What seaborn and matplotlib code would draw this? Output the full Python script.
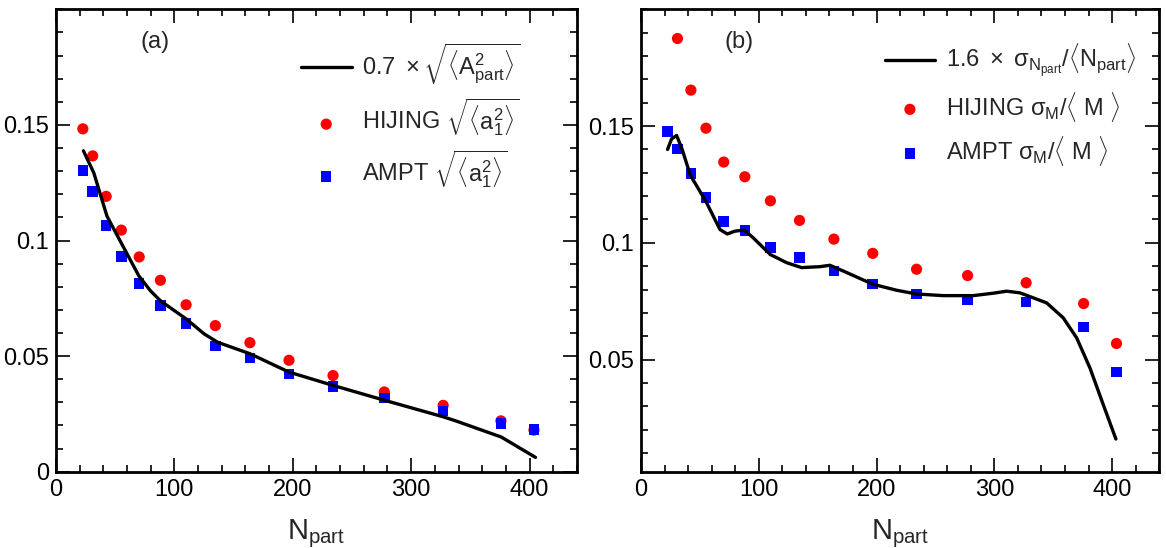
import matplotlib
matplotlib.use("Agg")
import matplotlib.pyplot as plt
from matplotlib.ticker import MultipleLocator, FixedLocator, FixedFormatter
import seaborn as sns

# centrality bins (N_part), shared by both panels
npart = [22.7, 31.0, 42.4, 55.2, 70.3, 88.2, 109.9, 134.6, 163.8, 196.8,
         234.0, 277.3, 327.0, 375.8, 403.7]

# (a) sqrt(<a1^2>)
hijing_a = [0.1483, 0.1366, 0.1191, 0.1045, 0.0929, 0.0828, 0.0722, 0.0632,
            0.0558, 0.0482, 0.0416, 0.0345, 0.0287, 0.0220, 0.0180]
ampt_a = [0.1303, 0.1213, 0.1064, 0.0930, 0.0815, 0.0718, 0.0642, 0.0544,
          0.0492, 0.0422, 0.0369, 0.0319, 0.0263, 0.0208, 0.0182]
curve_a_x = [23.2, 32.0, 43.1, 55.8, 70.0, 79.9, 88.3, 110.2, 125.2, 136.5,
             164.0, 196.8, 234.2, 277.5, 327.4, 337.6, 376.1, 405.0]
curve_a_y = [0.1388, 0.1292, 0.1105, 0.0983, 0.0847, 0.0782, 0.0739, 0.0660,
             0.0596, 0.0560, 0.0510, 0.0431, 0.0373, 0.0309, 0.0237, 0.0220,
             0.0150, 0.0062]

# (b) sigma_M / <M>  (first HIJING point is off scale)
npart_hijing_b = npart[1:]
hijing_b = [0.1875, 0.1654, 0.1491, 0.1346, 0.1283, 0.1180, 0.1096, 0.1016,
            0.0955, 0.0887, 0.0860, 0.0829, 0.0740, 0.0569]
ampt_b = [0.1477, 0.1402, 0.1297, 0.1195, 0.1091, 0.1052, 0.0980, 0.0938,
          0.0880, 0.0823, 0.0781, 0.0756, 0.0747, 0.0640, 0.0447]
curve_b_x = [22.6, 26.0, 30.3, 35.0, 41.9, 55.2, 67.1, 73.3, 79.8, 87.7, 95.4,
             109.8, 123.7, 136.4, 151.9, 160.4, 174.6, 196.7, 217.1, 234.0,
             256.6, 282.1, 300.0, 310.4, 321.7, 344.4, 358.5, 369.9, 381.2,
             392.5, 403.2]
curve_b_y = [0.1400, 0.1445, 0.1460, 0.1400, 0.1290, 0.1177, 0.1057, 0.1038,
             0.1050, 0.1055, 0.1021, 0.0950, 0.0915, 0.0894, 0.0898, 0.0904,
             0.0873, 0.0823, 0.0797, 0.0781, 0.0774, 0.0774, 0.0785, 0.0793,
             0.0786, 0.0743, 0.0679, 0.0593, 0.0464, 0.0307, 0.0160]

sns.set_style("ticks")
plt.rcParams['font.family'] = ['Liberation Sans', 'DejaVu Sans']
plt.rcParams['mathtext.fontset'] = 'custom'
plt.rcParams['mathtext.rm'] = 'Liberation Sans'
plt.rcParams['mathtext.it'] = 'Liberation Sans:italic'
plt.rcParams['mathtext.bf'] = 'Liberation Sans:bold'

fig = plt.figure(figsize=(11.66, 5.48), dpi=100)
ax_a = fig.add_axes([0.0480, 0.1392, 0.4468, 0.8438])
ax_b = fig.add_axes([0.5497, 0.1392, 0.4445, 0.8438])

# panel (a)
sns.lineplot(x=curve_a_x, y=curve_a_y, color='black', lw=2.4, sort=False,
             estimator=None, ax=ax_a,
             label=r'$0.7\ \times\sqrt{\langle \mathrm{A}^{2}_{\mathrm{part}}\rangle}$')
sns.scatterplot(x=npart, y=hijing_a, marker='o', s=65, color='red',
                edgecolor='none', ax=ax_a,
                label=r'HIJING $\sqrt{\langle \mathrm{a}^{2}_{1}\rangle}$')
sns.scatterplot(x=npart, y=ampt_a, marker='s', s=58, color='blue',
                edgecolor='none', ax=ax_a,
                label=r'AMPT $\sqrt{\langle \mathrm{a}^{2}_{1}\rangle}$')

# panel (b)
sns.lineplot(x=curve_b_x, y=curve_b_y, color='black', lw=2.4, sort=False,
             estimator=None, ax=ax_b,
             label=r'$1.6\ \times\ \mathrm{\sigma}_{\mathrm{N_{part}}}/\langle\mathrm{N_{part}}\rangle$')
sns.scatterplot(x=npart_hijing_b, y=hijing_b, marker='o', s=65, color='red',
                edgecolor='none', ax=ax_b,
                label=r'HIJING $\mathrm{\sigma_{M}}/\langle\ \mathrm{M}\ \rangle$')
sns.scatterplot(x=npart, y=ampt_b, marker='s', s=58, color='blue',
                edgecolor='none', ax=ax_b,
                label=r'AMPT $\mathrm{\sigma_{M}}/\langle\ \mathrm{M}\ \rangle$')

for ax, tag, ylo, yt in [(ax_a, '(a)', 0.0, [0, 0.05, 0.1, 0.15]),
                         (ax_b, '(b)', 0.002, [0.05, 0.1, 0.15])]:
    ax.set_xlim(0, 440)
    ax.set_ylim(ylo, 0.2)
    ax.xaxis.set_major_locator(FixedLocator([0, 100, 200, 300, 400]))
    ax.xaxis.set_minor_locator(MultipleLocator(20))
    ax.yaxis.set_major_locator(FixedLocator(yt))
    ax.yaxis.set_major_formatter(FixedFormatter(['%g' % v for v in yt]))
    ax.yaxis.set_minor_locator(MultipleLocator(0.01))
    ax.tick_params(which='both', direction='in', top=True, right=True,
                   labelsize=17, width=1.2, colors='black')
    ax.tick_params(which='major', length=10, pad=5)
    ax.tick_params(which='minor', length=5)
    for sp in ax.spines.values():
        sp.set_linewidth(2.0)
        sp.set_color('black')
    ax.set_xlabel(r'$\mathrm{N_{part}}$', fontsize=21, labelpad=12)
    ax.set_ylabel('')
    ax.text(0.19, 0.93, tag, transform=ax.transAxes, fontsize=17,
            ha='center', va='center')
    h, l = ax.get_legend_handles_labels()
    ax.legend(h, l, loc='upper left', bbox_to_anchor=(0.47, 0.93),
              frameon=False, fontsize=17, handlelength=2.15,
              handletextpad=0.45, labelspacing=0.42, borderpad=0,
              borderaxespad=0)

fig.savefig('out.png', dpi=100)
